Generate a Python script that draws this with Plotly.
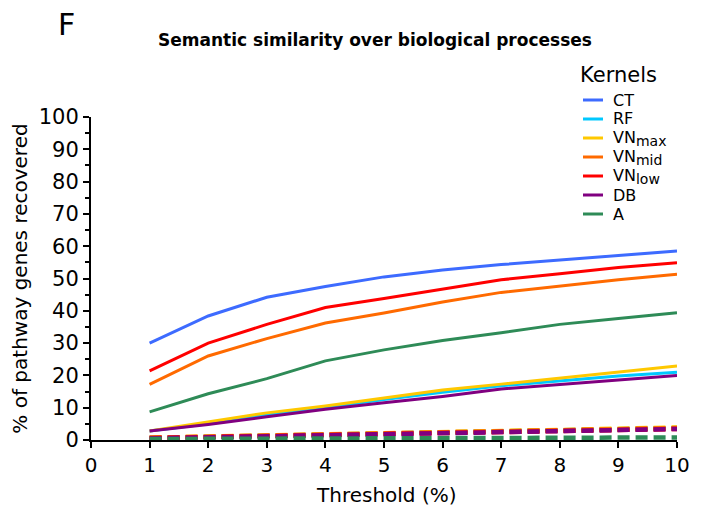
import plotly.graph_objects as go

thresholds = [1, 2, 3, 4, 5, 6, 7, 8, 9, 10]

kernel_names = ["CT", "RF", "VN<sub><span style='font-size:14px'>max</span></sub>",
                "VN<sub><span style='font-size:14px'>mid</span></sub>",
                "VN<sub><span style='font-size:14px'>low</span></sub>", "DB", "A"]
kernel_colors = ["#3D6BFF", "#00C8FF", "#FFC800", "#FF6A00", "#FF0000", "#800080", "#2E8B57"]

ct = [30.0, 38.4, 44.2, 47.5, 50.5, 52.6, 54.3, 55.8, 57.1, 58.5]
rf = [2.8, 5.0, 7.8, 10.0, 12.5, 14.8, 16.8, 18.4, 19.8, 21.0]
vn_max = [2.8, 5.6, 8.4, 10.5, 13.0, 15.5, 17.3, 19.2, 21.0, 22.9]
vn_mid = [17.2, 26.0, 31.4, 36.2, 39.3, 42.7, 45.7, 47.7, 49.6, 51.3]
vn_low = [21.4, 30.0, 35.8, 41.0, 43.8, 46.8, 49.6, 51.5, 53.4, 54.9]
db = [2.8, 4.8, 7.2, 9.5, 11.5, 13.5, 15.8, 17.2, 18.5, 20.0]
a = [8.7, 14.3, 19.0, 24.5, 27.9, 30.8, 33.2, 35.8, 37.6, 39.4]

ct_rand = [0.6, 1.0, 1.3, 1.6, 2.0, 2.3, 2.6, 2.9, 3.2, 3.6]
rf_rand = [0.6, 1.0, 1.4, 1.7, 2.1, 2.4, 2.7, 3.0, 3.3, 3.7]
vn_max_rand = [0.7, 1.1, 1.5, 1.8, 2.2, 2.5, 2.8, 3.1, 3.5, 3.9]
vn_mid_rand = [0.7, 1.0, 1.4, 1.7, 2.0, 2.3, 2.7, 3.0, 3.3, 3.7]
vn_low_rand = [0.6, 0.9, 1.2, 1.5, 1.8, 2.1, 2.4, 2.7, 3.0, 3.4]
db_rand = [0.5, 0.8, 1.1, 1.4, 1.7, 2.0, 2.3, 2.6, 3.0, 3.4]
a_rand = [0.3, 0.35, 0.4, 0.45, 0.5, 0.55, 0.6, 0.65, 0.7, 0.8]

series = [ct, rf, vn_max, vn_mid, vn_low, db, a]
series_rand = [ct_rand, rf_rand, vn_max_rand, vn_mid_rand, vn_low_rand, db_rand, a_rand]

y_ticks = list(range(0, 101, 10))
x_ticks = list(range(0, 11))

FONT = "DejaVu Sans"

fig = go.Figure()
for name, col, vals in zip(kernel_names, kernel_colors, series):
    fig.add_trace(go.Scatter(x=thresholds, y=vals, mode="lines", name=name,
                             line=dict(color=col, width=3), showlegend=False))
for name, col, vals in zip(kernel_names, kernel_colors, series_rand):
    fig.add_trace(go.Scatter(x=thresholds, y=vals, mode="lines", name=name + " random",
                             line=dict(color=col, width=4.5, dash="12px,6px"), showlegend=False))

# manual legend
shapes = []
annotations = []
leg_x0, leg_x1 = 583, 603
leg_y0 = 100
leg_dy = 19.0
for i, (name, col) in enumerate(zip(kernel_names, kernel_colors)):
    yy = leg_y0 + i * leg_dy
    shapes.append(dict(type="line", xref="paper", yref="paper",
                       x0=(leg_x0 - 91) / 586, x1=(leg_x1 - 91) / 586,
                       y0=(440 - yy) / 323, y1=(440 - yy) / 323,
                       line=dict(color=col, width=3)))
    annotations.append(dict(xref="paper", yref="paper", x=(611 - 91) / 586, y=(440 - yy) / 323,
                            text=name, showarrow=False, xanchor="left", yanchor="middle",
                            font=dict(family=FONT, size=16, color="black")))
annotations.append(dict(xref="paper", yref="paper", x=(578 - 91) / 586, y=(440 - 75) / 323,
                        text="Kernels", showarrow=False, xanchor="left", yanchor="middle",
                        font=dict(family=FONT, size=21, color="black")))
annotations.append(dict(xref="paper", yref="paper", x=(375 - 91) / 586, y=(440 - 40) / 323,
                        text="<b>Semantic similarity over biological processes</b>", showarrow=False,
                        xanchor="center", yanchor="middle",
                        font=dict(family=FONT, size=17, color="black")))
annotations.append(dict(xref="paper", yref="paper", x=(66 - 91) / 586, y=(440 - 24) / 323,
                        text="F", showarrow=False, xanchor="center", yanchor="middle",
                        font=dict(family=FONT, size=30, color="black")))
annotations.append(dict(xref="paper", yref="paper", x=(386 - 91) / 586, y=(440 - 495) / 323,
                        text="Threshold (%)", showarrow=False, xanchor="center", yanchor="middle",
                        font=dict(family=FONT, size=20, color="black")))

fig.update_layout(
    width=704, height=508,
    margin=dict(l=91, r=27, t=117, b=68),
    paper_bgcolor="white", plot_bgcolor="white",
    font=dict(family=FONT, color="black"),
    shapes=shapes, annotations=annotations,
    xaxis=dict(range=[0, 10], tickvals=x_ticks, ticktext=[str(v) for v in x_ticks],
               showgrid=False, zeroline=False, showline=True, linecolor="black", linewidth=2,
               ticks="outside", ticklen=6, tickwidth=2, tickcolor="black", automargin=False,
               tickfont=dict(size=20, family=FONT)),
    yaxis=dict(range=[0, 100], tickvals=y_ticks, ticktext=[str(v) for v in y_ticks],
               showgrid=False, zeroline=False, showline=True, linecolor="black", linewidth=2,
               ticks="outside", ticklen=6, tickwidth=2, tickcolor="black", automargin=False,
               minor=dict(ticks="outside", ticklen=4, tickwidth=2, tickcolor="black", dtick=5, tick0=0),
               tickfont=dict(size=21, family=FONT),
               title=dict(text="% of pathway genes recovered", font=dict(size=20, family=FONT), standoff=6)),
)

fig.write_html("out.html")
